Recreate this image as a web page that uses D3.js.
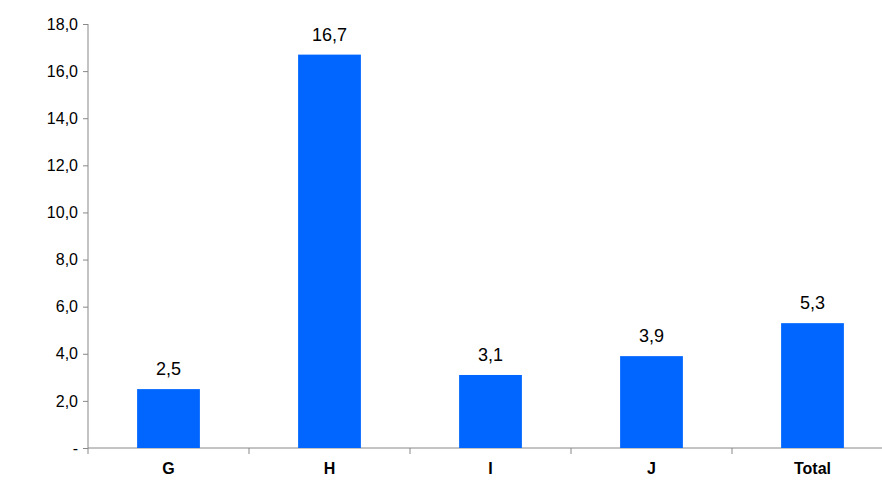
<!DOCTYPE html>
<html lang="en">
<head>
<meta charset="UTF-8">
<script src="https://cdnjs.cloudflare.com/ajax/libs/d3/7.8.5/d3.min.js"></script>
<style>
  html, body { margin: 0; padding: 0; background: #fff; }
  text { font-family: "Liberation Sans", Arial, sans-serif; }
</style>
</head>
<body>
<div id="chart"></div>
<script>
const categories = ["G", "H", "I", "J", "Total"];
const values = [2.5, 16.7, 3.1, 3.9, 5.3];
const yTicks = [0, 2, 4, 6, 8, 10, 12, 14, 16, 18];

const width = 882, height = 484;
const margin = {left: 88, right: -11, top: 24, bottom: 36};

const svg = d3.select("#chart").append("svg")
  .attr("width", width).attr("height", height);

const x = d3.scaleBand().domain(categories)
  .range([margin.left, width - margin.right]).paddingInner(0.61).paddingOuter(0.305);
const y = d3.scaleLinear().domain([0, 18]).range([height - margin.bottom, margin.top]);

const fmt = v => v === 0 ? "-" : d3.format(".1f")(v).replace(".", ",");

// y axis
const yAxis = svg.append("g").attr("transform", `translate(${margin.left},0)`)
  .call(d3.axisLeft(y).tickValues(yTicks).tickFormat(fmt).tickSize(5).tickPadding(5));
yAxis.select(".domain").attr("stroke", "#888").attr("d", `M0,${y(18)}V${y(0)}`);
yAxis.selectAll(".tick line").attr("stroke", "#888");
yAxis.selectAll("text").attr("font-size", 16).attr("fill", "#000");

// x axis
const step = x.step();
const xg = svg.append("g");
xg.append("line").attr("x1", margin.left).attr("x2", width).attr("y1", y(0)).attr("y2", y(0)).attr("stroke", "#888");
d3.range(6).forEach(i => {
  const px = margin.left + i * step;
  xg.append("line").attr("x1", px).attr("x2", px).attr("y1", y(0)).attr("y2", y(0) + 6).attr("stroke", "#888");
});
xg.selectAll("text.cat").data(categories).join("text")
  .attr("x", d => x(d) + x.bandwidth() / 2).attr("y", y(0) + 26)
  .attr("text-anchor", "middle").attr("font-size", 16).attr("font-weight", "bold").text(d => d);

// bars
svg.append("g").selectAll("rect").data(values).join("rect")
  .attr("x", (d, i) => x(categories[i])).attr("width", x.bandwidth())
  .attr("y", d => y(d)).attr("height", d => y(0) - y(d))
  .attr("fill", "#0066FF");

svg.append("g").selectAll("text").data(values).join("text")
  .attr("x", (d, i) => x(categories[i]) + x.bandwidth() / 2)
  .attr("y", d => y(d) - 14).attr("text-anchor", "middle")
  .attr("font-size", 18).text(d => fmt(d));
</script>
</body>
</html>
